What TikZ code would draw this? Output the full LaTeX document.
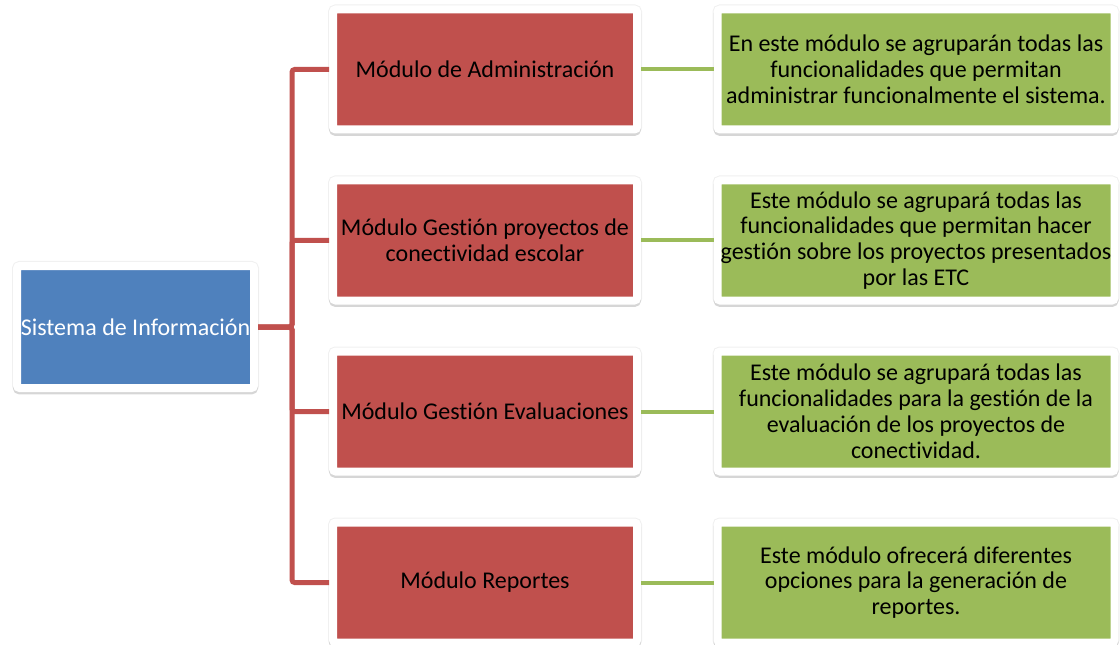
\documentclass[tikz,border=0pt]{standalone}
\usepackage{fontspec}
\setmainfont{Carlito}[Ligatures={NoCommon}]
\usepackage{tikz}
\usetikzlibrary{calc}
\definecolor{azul}{HTML}{4F81BD}
\definecolor{rojo}{HTML}{C0504D}
\definecolor{verde}{HTML}{9BBB59}
\tikzset{card/.style = {shape=rectangle,draw=white,line width=6pt,rounded corners=2pt,inner sep=0pt,align=center,font=\fontsize{18}{19.4}\selectfont,
    preaction={draw=black!6,fill=black!6,line width=7.5pt},
    preaction={draw=black!16,fill=black!16,line width=6pt,transform canvas={yshift=-1.8pt}}}}
\tikzset{sistema/.style = {card,fill=azul,text=white,minimum width=177.75pt,minimum height=91.5pt}}
\tikzset{modulo/.style = {card,fill=rojo,minimum width=228pt,minimum height=90pt}}
\tikzset{detalle/.style = {card,fill=verde,minimum width=297.75pt,minimum height=90pt}}
\tikzset{ramarojo/.style = {draw=rojo,line width=3.75pt,rounded corners=2pt}}
\tikzset{ramaverde/.style = {draw=verde,line width=3pt}}

\begin{document}
\begin{tikzpicture}[x=0.75pt,y=-0.75pt]
                    \useasboundingbox (0,0) rectangle (1120,645);

                    \node[sistema] (S) at (135.5,327) {Sistema de Información};

                    \node[modulo] (A) at (485,69.5) {Módulo de Administración};
                    \node[modulo] (B) at (485,240.5) {Módulo Gestión proyectos de\\conectividad escolar};
                    \node[modulo] (C) at (485,411.5) {Módulo Gestión Evaluaciones};
                    \node[modulo] (D) at (485,582.5) {Módulo Reportes};

                    \node[detalle] (1) at (916,69.5) {En este módulo se agruparán todas las\\funcionalidades que permitan\\administrar funcionalmente el sistema.};
                    \node[detalle] (2) at (916,240.5) {Este módulo se agrupará todas las\\funcionalidades que permitan hacer\\gestión sobre los proyectos presentados\\por las ETC};
                    \node[detalle] (3) at (916,411.5) {Este módulo se agrupará todas las\\funcionalidades para la gestión de la\\evaluación de los proyectos de\\conectividad.};
                    \node[detalle] (4) at (916,582.5) {Este módulo ofrecerá diferentes\\opciones para la generación de\\reportes.};

                    \draw[ramarojo] (S.east) -- ++(34,0) |- (A.west);
                    \draw[ramarojo] (S.east) -- ++(34,0) |- (B.west);
                    \draw[ramarojo] (S.east) -- ++(34,0) |- (C.west);
                    \draw[ramarojo] (S.east) -- ++(34,0) |- (D.west);
                    \draw[ramaverde] (A) -- (1);
                    \draw[ramaverde] (B) -- (2);
                    \draw[ramaverde] (C) -- (3);
                    \draw[ramaverde] (D) -- (4);
                \end{tikzpicture}
\end{document}
